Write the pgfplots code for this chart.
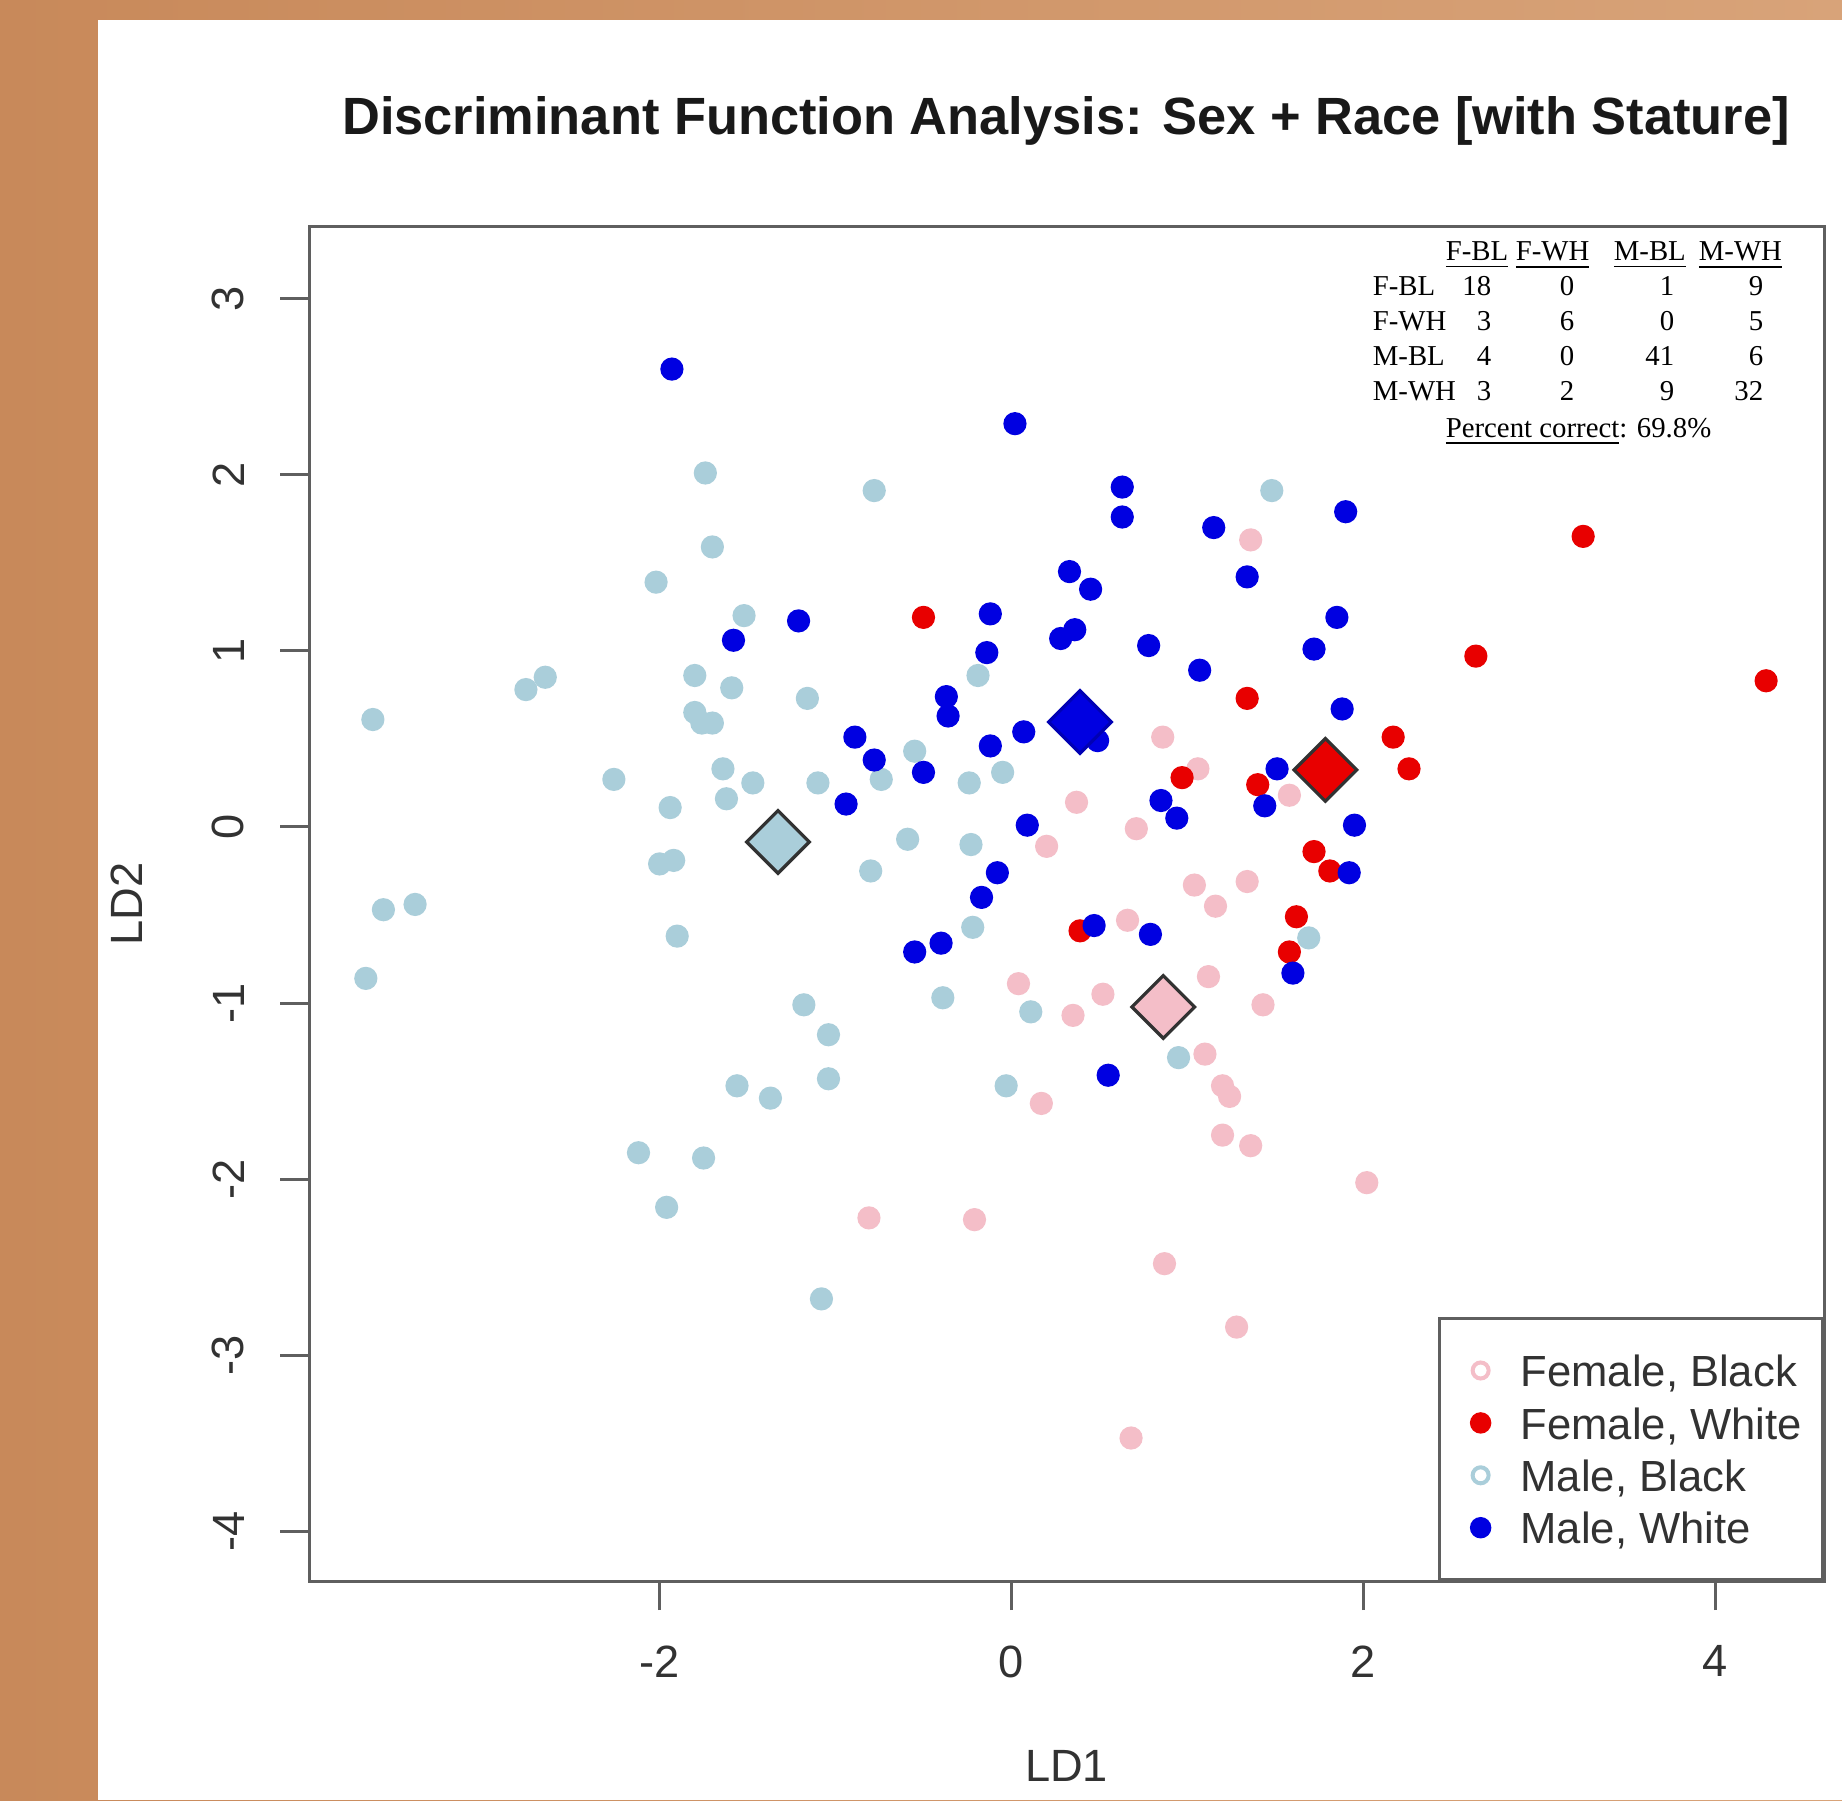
\documentclass[border=0pt]{standalone}
\usepackage{pgfplots}
\pgfplotsset{compat=1.18}
\usepackage{fontspec}
\setmainfont{Liberation Serif}
\newfontfamily\arial{Liberation Sans}
\definecolor{bgL}{RGB}{200,137,90}
\definecolor{bgR}{RGB}{216,163,121}
\definecolor{pinkR}{RGB}{244,190,200}
\definecolor{redR}{RGB}{232,0,0}
\definecolor{lbR}{RGB}{170,206,218}
\definecolor{blueR}{RGB}{0,0,225}
\definecolor{axgray}{RGB}{95,95,95}
\definecolor{txtgray}{RGB}{50,50,50}
\definecolor{dmd}{RGB}{50,50,50}
\begin{document}
\begin{tikzpicture}
\shade[left color=bgL,right color=bgR] (0pt,0pt) rectangle (460.5pt,450pt);
\fill[white] (24.375pt,0pt) rectangle (460.5pt,445pt);
\begin{axis}[
  at={(77.25pt,54.75pt)}, anchor=south west,
  width=378.75pt, height=338.5pt, scale only axis,
  xmin=-3.993, xmax=4.619, ymin=-4.282, ymax=3.407,
  axis line style={axgray, line width=0.75pt},
  xtick={-2,0,2,4}, xticklabels={-2,0,2,4},
  ytick={-4,-3,-2,-1,0,1,2,3}, yticklabels={-4,-3,-2,-1,0,1,2,3},
  tick pos=left,
  tick align=outside,
  major tick length=7.25pt,
  tick style={axgray, line width=0.75pt},
  ticklabel style={font=\arial\fontsize{11.3}{13}\selectfont, text=txtgray, inner sep=0pt},
  xticklabel style={anchor=north},
  yticklabel style={rotate=90, anchor=south},
  xticklabel shift=8.75pt, yticklabel shift=8.75pt,
  xlabel={LD1}, ylabel={LD2},
  label style={font=\arial\fontsize{11.3}{13}\selectfont, text=txtgray},
  xlabel style={at={(axis description cs:0.5,-0.1366)}, anchor=center},
  ylabel style={at={(axis description cs:-0.1201,0.5)}, anchor=center},
  legend style={at={(1,0)}, anchor=south east, draw=axgray, line width=0.75pt, fill=white,
    inner xsep=5.2pt, inner ysep=7.7pt, row sep=2.6pt, column sep=6pt,
    font=\arial\fontsize{10.9}{13}\selectfont, text=txtgray,
    nodes={inner sep=0pt, text height=9.3pt, text depth=1.2pt}},
  legend cell align=left,
  legend image code/.code={\draw[#1] plot coordinates {(5pt,0pt)}; \path[draw=none,fill=none] (0pt,-3pt) rectangle (9pt,3pt);},
]
\addlegendimage{only marks, mark=o, mark size=2pt, pinkR, line width=1pt}
\addlegendentry{Female, Black}
\addlegendimage{only marks, mark=*, mark size=2.3pt, redR}
\addlegendentry{Female, White}
\addlegendimage{only marks, mark=o, mark size=2pt, lbR, line width=1pt}
\addlegendentry{Male, Black}
\addlegendimage{only marks, mark=*, mark size=2.3pt, blueR}
\addlegendentry{Male, White}

% Female, Black
\addplot[forget plot, only marks, mark=*, mark size=2.7pt, mark options={draw=pinkR, fill=pinkR}] coordinates {
(1.36,1.63) (0.86,0.51) (1.06,0.33) (1.58,0.18) (0.37,0.14) (0.71,-0.01) (0.20,-0.11)
(1.04,-0.33) (1.16,-0.45) (1.34,-0.31) (0.66,-0.53) (1.12,-0.85) (1.43,-1.01) (0.04,-0.89)
(0.35,-1.07) (0.52,-0.95) (1.10,-1.29) (1.20,-1.47) (1.24,-1.53) (0.17,-1.57) (1.20,-1.75)
(1.36,-1.81) (2.02,-2.02) (-0.81,-2.22) (-0.21,-2.23) (0.87,-2.48) (1.28,-2.84) (0.68,-3.47)
};
% Male, Black
\addplot[forget plot, only marks, mark=*, mark size=2.7pt, mark options={draw=lbR, fill=lbR}] coordinates {
(-1.74,2.01) (-0.78,1.91) (1.48,1.91) (-1.70,1.59) (-2.02,1.39) (-1.52,1.20) (-1.80,0.86)
(-1.59,0.79) (-2.65,0.85) (-2.76,0.78) (-1.16,0.73) (-3.63,0.61) (-1.80,0.65) (-1.76,0.59)
(-1.70,0.59) (-0.19,0.86) (-0.55,0.43) (-1.64,0.33) (-1.47,0.25) (-1.10,0.25) (-0.74,0.27)
(-1.62,0.16) (-2.26,0.27) (-0.05,0.31) (-0.24,0.25) (-1.94,0.11) (-0.59,-0.07) (-0.23,-0.10)
(-2.00,-0.21) (-1.92,-0.19) (-0.80,-0.25) (-1.90,-0.62) (-0.22,-0.57) (-3.57,-0.47) (-3.39,-0.44)
(-3.67,-0.86) (1.69,-0.63) (-0.39,-0.97) (-1.18,-1.01) (0.11,-1.05) (-1.04,-1.18) (0.95,-1.31)
(-1.04,-1.43) (-1.56,-1.47) (-1.37,-1.54) (-0.03,-1.47) (-2.12,-1.85) (-1.75,-1.88) (-1.96,-2.16)
(-1.08,-2.68)
};
% Female, White
\addplot[forget plot, only marks, mark=*, mark size=2.7pt, mark options={draw=redR, fill=redR}] coordinates {
(-0.50,1.19) (3.25,1.65) (2.64,0.97) (4.29,0.83) (1.34,0.73) (2.17,0.51) (2.26,0.33)
(0.97,0.28) (1.40,0.24) (1.72,-0.14) (1.81,-0.25) (1.62,-0.51) (1.58,-0.71) (0.39,-0.59)
};
% Male, White
\addplot[forget plot, only marks, mark=*, mark size=2.7pt, mark options={draw=blueR, fill=blueR}] coordinates {
(-1.93,2.60) (0.02,2.29) (0.63,1.93) (0.63,1.76) (1.90,1.79) (1.15,1.70) (1.34,1.42)
(0.33,1.45) (0.45,1.35) (-1.21,1.17) (-1.58,1.06) (-0.12,1.21) (-0.14,0.99) (0.36,1.12)
(0.28,1.07) (0.78,1.03) (1.85,1.19) (1.72,1.01) (1.07,0.89) (-0.37,0.74) (-0.36,0.63)
(1.88,0.67) (-0.89,0.51) (-0.78,0.38) (-0.50,0.31) (-0.12,0.46) (0.07,0.54) (0.49,0.49)
(-0.94,0.13) (1.51,0.33) (1.44,0.12) (0.85,0.15) (0.94,0.05) (0.09,0.01) (1.95,0.01)
(-0.08,-0.26) (1.92,-0.26) (-0.17,-0.40) (0.47,-0.56) (0.79,-0.61) (-0.40,-0.66) (-0.55,-0.71)
(1.60,-0.83) (0.55,-1.41)
};
% group centroids
\addplot[forget plot, only marks, mark=square*, mark size=5.54pt, mark options={rotate=45, draw=dmd, fill=pinkR, line width=0.8pt, line join=miter}] coordinates {(0.863,-1.022)};
\addplot[forget plot, only marks, mark=square*, mark size=5.54pt, mark options={rotate=45, draw=dmd, fill=redR, line width=0.8pt, line join=miter}] coordinates {(1.785,0.324)};
\addplot[forget plot, only marks, mark=square*, mark size=5.54pt, mark options={rotate=45, draw=dmd, fill=lbR, line width=0.8pt, line join=miter}] coordinates {(-1.327,-0.085)};
\addplot[forget plot, only marks, mark=square*, mark size=5.54pt, mark options={rotate=45, draw=blueR!80!black, fill=blueR, line width=0.8pt, line join=miter}] coordinates {(0.39,0.596)};
\end{axis}
% title
\node[font=\arial\bfseries\fontsize{13.1}{15}\selectfont, text=black!90] at (266.5pt,419.75pt) {Discriminant Function Analysis: Sex + Race [with Stature]};
% classification table
\begin{scope}[every node/.style={inner sep=0pt, font=\fontsize{7.2}{8.6}\selectfont, text=black}]
\node[anchor=base west] at (361.25pt,384.75pt) {\underline{F-BL}};
\node[anchor=base west] at (378.75pt,384.75pt) {\underline{F-WH}};
\node[anchor=base west] at (403.25pt,384.75pt) {\underline{M-BL}};
\node[anchor=base west] at (424.5pt,384.75pt) {\underline{M-WH}};
\node[anchor=base west] at (343pt,376.2pt) {F-BL};
\node[anchor=base west] at (343pt,367.4pt) {F-WH};
\node[anchor=base west] at (343pt,358.6pt) {M-BL};
\node[anchor=base west] at (343pt,349.8pt) {M-WH};
\node[anchor=base east] at (373pt,376.2pt) {18};
\node[anchor=base east] at (373pt,367.4pt) {3};
\node[anchor=base east] at (373pt,358.6pt) {4};
\node[anchor=base east] at (373pt,349.8pt) {3};
\node[anchor=base east] at (393.75pt,376.2pt) {0};
\node[anchor=base east] at (393.75pt,367.4pt) {6};
\node[anchor=base east] at (393.75pt,358.6pt) {0};
\node[anchor=base east] at (393.75pt,349.8pt) {2};
\node[anchor=base east] at (418.75pt,376.2pt) {1};
\node[anchor=base east] at (418.75pt,367.4pt) {0};
\node[anchor=base east] at (418.75pt,358.6pt) {41};
\node[anchor=base east] at (418.75pt,349.8pt) {9};
\node[anchor=base east] at (441pt,376.2pt) {9};
\node[anchor=base east] at (441pt,367.4pt) {5};
\node[anchor=base east] at (441pt,358.6pt) {6};
\node[anchor=base east] at (441pt,349.8pt) {32};
\node[anchor=base west] at (361.25pt,340.65pt) {\underline{Percent correct}: 69.8\%};
\end{scope}
\pgfresetboundingbox
\path (0pt,0pt) rectangle (460.5pt,450pt);
\end{tikzpicture}
\end{document}
